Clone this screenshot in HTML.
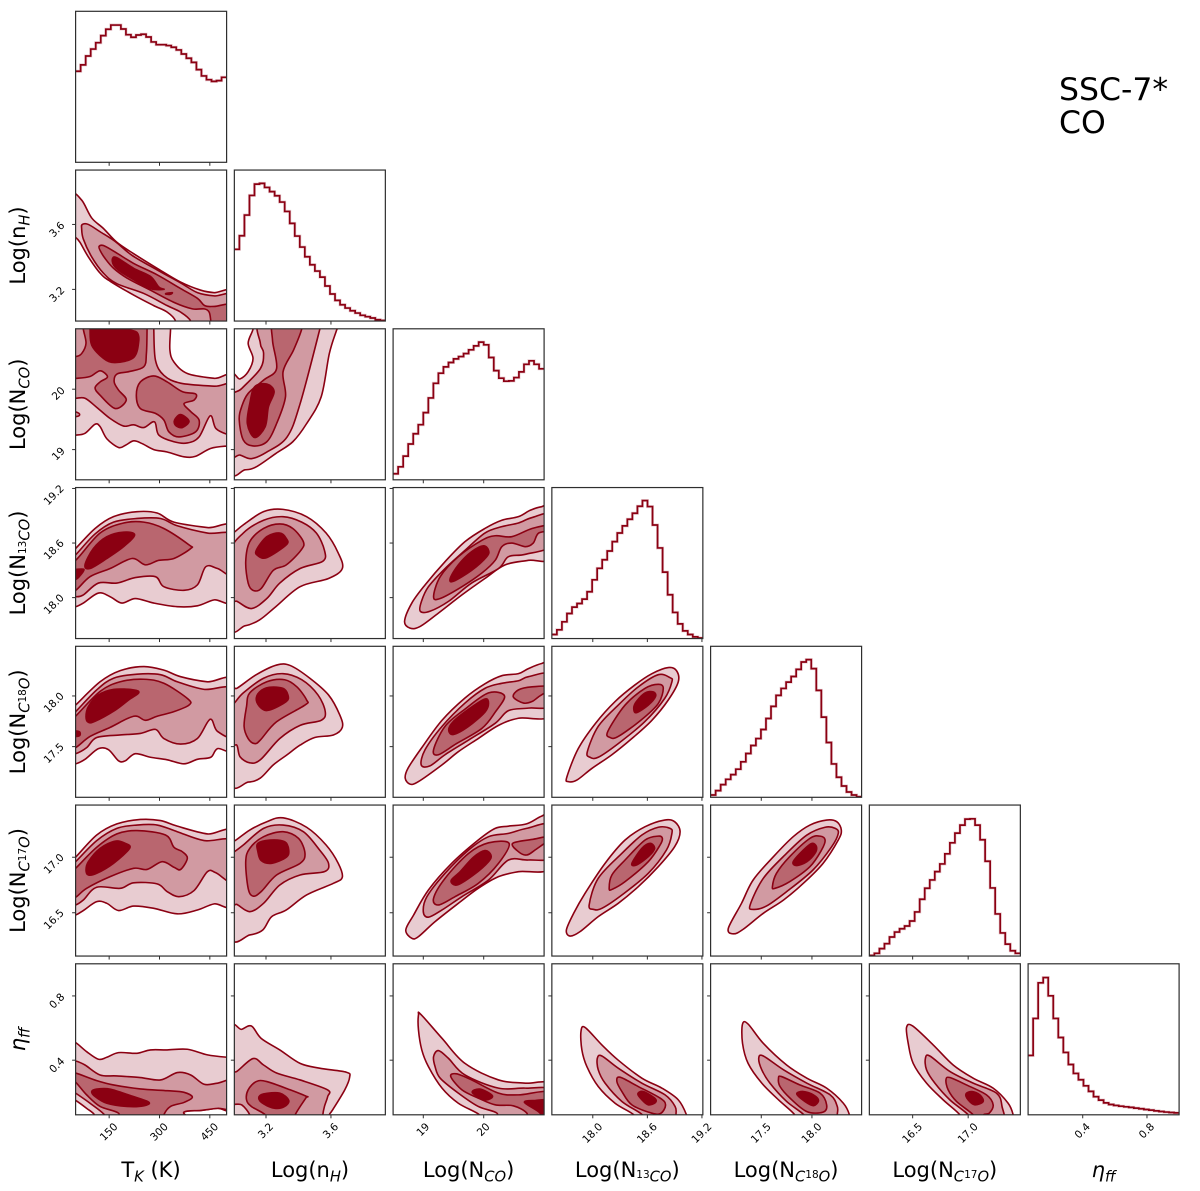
<!DOCTYPE html>
<html lang="en">
<head>
<meta charset="utf-8">
<title>SSC-7* CO corner plot</title>
<style>
html,body{margin:0;padding:0;background:#fff;}
svg{display:block;font-family:"DejaVu Sans","Liberation Sans",sans-serif;}
.axis-title{font-size:21px;fill:#000;text-anchor:middle;}
.sub{font-size:14.7px;font-style:italic;}
.iso{font-size:10.5px;}
</style>
</head>
<body>
<svg id="chart" xmlns="http://www.w3.org/2000/svg" width="1200" height="1191" viewBox="0 0 1200 1191">
  <rect x="0" y="0" width="1200" height="1191" fill="#fff"/>
  <g id="panels"></g>

  <text x="1059" y="100" font-size="31.5" fill="#000">SSC-7*</text>
  <text x="1059" y="133" font-size="31.5" fill="#000">CO</text>

  <text class="axis-title" x="151" y="1177">T<tspan class="sub" dy="4.5">K</tspan><tspan dy="-4.5"> (K)</tspan></text>
  <text class="axis-title" x="310" y="1177">Log(n<tspan class="sub" dy="4.5">H</tspan><tspan dy="-4.5">)</tspan></text>
  <text class="axis-title" x="468.6" y="1177">Log(N<tspan class="sub" dy="4.5">CO</tspan><tspan dy="-4.5">)</tspan></text>
  <text class="axis-title" x="627.3" y="1177">Log(N<tspan class="iso" dy="1">13</tspan><tspan class="sub" dy="3.5">CO</tspan><tspan dy="-4.5">)</tspan></text>
  <text class="axis-title" x="786" y="1177">Log(N<tspan class="sub" dy="4.5">C</tspan><tspan class="iso" dy="-3.5">18</tspan><tspan class="sub" dy="3.5">O</tspan><tspan dy="-4.5">)</tspan></text>
  <text class="axis-title" x="944.8" y="1177">Log(N<tspan class="sub" dy="4.5">C</tspan><tspan class="iso" dy="-3.5">17</tspan><tspan class="sub" dy="3.5">O</tspan><tspan dy="-4.5">)</tspan></text>
  <text class="axis-title" x="1103.6" y="1177"><tspan font-style="italic">η</tspan><tspan class="sub" dy="4.5">ff</tspan></text>

  <text class="axis-title" x="25" y="245.5" transform="rotate(-90 25 245.5)">Log(n<tspan class="sub" dy="4.5">H</tspan><tspan dy="-4.5">)</tspan></text>
  <text class="axis-title" x="25" y="404.3" transform="rotate(-90 25 404.3)">Log(N<tspan class="sub" dy="4.5">CO</tspan><tspan dy="-4.5">)</tspan></text>
  <text class="axis-title" x="25" y="563" transform="rotate(-90 25 563)">Log(N<tspan class="iso" dy="1">13</tspan><tspan class="sub" dy="3.5">CO</tspan><tspan dy="-4.5">)</tspan></text>
  <text class="axis-title" x="25" y="721.8" transform="rotate(-90 25 721.8)">Log(N<tspan class="sub" dy="4.5">C</tspan><tspan class="iso" dy="-3.5">18</tspan><tspan class="sub" dy="3.5">O</tspan><tspan dy="-4.5">)</tspan></text>
  <text class="axis-title" x="25" y="880.5" transform="rotate(-90 25 880.5)">Log(N<tspan class="sub" dy="4.5">C</tspan><tspan class="iso" dy="-3.5">17</tspan><tspan class="sub" dy="3.5">O</tspan><tspan dy="-4.5">)</tspan></text>
  <text class="axis-title" x="25" y="1039.3" transform="rotate(-90 25 1039.3)"><tspan font-style="italic">η</tspan><tspan class="sub" dy="4.5">ff</tspan></text>
</svg>

<script>
// Parameter names, axis ranges and ticks
const paramNames = ['tk','nh','nco','n13co','nc18o','nc17o','eta'];
const axisMin = [50, 3.005, 18.5, 17.55, 17.0, 16.11, 0.06];
const axisMax = [500, 3.935, 21.0, 19.21, 18.49, 17.47, 1.0];
const tickValues = [[150,300,450],[3.2,3.6],[19,20],[18.0,18.6,19.2],[17.5,18.0],[16.5,17.0],[0.4,0.8]];
const tickLabels = [['150','300','450'],['3.2','3.6'],['19','20'],['18.0','18.6','19.2'],['17.5','18.0'],['16.5','17.0'],['0.4','0.8']];

// Marginal histograms: relative density (percent of panel height scale), 30 bins
const histTk = [60.3,64.5,70.4,75,79.2,83.9,88.1,90.9,90.9,88.3,84.5,82.8,84.3,84.8,83,79.7,77.9,77.9,77.3,76.2,74.4,71.7,68.9,66.2,61.4,57.2,54.7,53.6,54.1,56.3];
const histNh = [47.5,56.5,70.2,83.2,90.7,91.2,88.5,85.7,83,78.8,72.6,64.7,56.3,49,42.6,37.3,33.1,29.1,23.2,17.9,13.7,10.8,8.6,6.8,5.3,3.8,2.9,2,0.9,0.4];
const histNco = [4,8.6,15.7,23.7,30.5,36.5,44.5,54.2,63.9,70.6,74.8,77.7,80.1,81.6,83.6,86.1,88.7,91.2,89.4,81,72.3,67.3,65.3,65.5,67.7,71.5,76.5,78.8,76.5,73.5];
const histN13co = [2.7,5.8,11.1,16.6,20.8,23.2,26.1,31,38.9,46.5,52.2,58,64.2,69.9,74.6,79,83,87.6,91.4,87.4,75.2,60,44,29,17.3,9.7,5.1,2.7,1.1,0.4];
const histNc18o = [1.5,4.4,8.4,11.9,15,18.6,23.5,29,34.3,38.9,44.9,52.2,60.2,67.5,72.1,76.3,80,84.7,89.6,91.2,85.2,70.8,53.1,36.3,22.1,13.3,7.5,3.5,1.5,0.4];
const histNc17o = [0.4,1.8,4.9,8.2,12.6,15.9,18.1,19.9,23.2,29.2,37.6,44.9,50.4,55.9,61,67.7,75,81.4,86.7,90.7,90.9,86.7,77,62.8,45.1,27.9,15.3,7.9,3.5,1.8];
const histEta = [39.3,63.8,87.4,90.9,78.8,63.8,51.2,41.3,33.3,27.4,23.2,19.2,15.5,12,9.7,7.9,6.8,6.2,5.7,5.3,4.9,4.4,4,3.5,3.1,2.6,2.2,1.8,1.5,1.3];

// Contours: each entry = [level, xValue, yValue, xValue, yValue, ...] in parameter units
const contoursNhTk = [
 [0, 38,3.78,68,3.75,98,3.64,133,3.575,173,3.49,223,3.42,293,3.33,363,3.245,423,3.195,463,3.18,523,3.18,523,2.9,348,2.93,348,3.005,323,3.06,283,3.10,223,3.165,153,3.25,123,3.30,88,3.40,63,3.49,50,3.52,33,3.535],
 [1, 70,3.60,88,3.60,123,3.555,168,3.495,218,3.41,293,3.32,363,3.24,413,3.18,463,3.16,523,3.16,523,2.93,393,2.93,393,3.005,363,3.06,323,3.10,253,3.175,173,3.235,133,3.30,98,3.40,73,3.51,68,3.575],
 [2, 120,3.465,133,3.47,168,3.43,223,3.36,293,3.29,363,3.205,413,3.145,435,3.10,463,3.095,523,3.10,523,2.93,458,2.93,453,3.005,448,3.06,433,3.08,398,3.08,343,3.12,273,3.195,203,3.27,163,3.33,138,3.39,123,3.44],
 [3, 160,3.39,173,3.395,223,3.33,273,3.28,298,3.215,313,3.20,273,3.205,223,3.26,183,3.31,163,3.35],
 [3, 320,3.175,338,3.18,333,3.17,320,3.17]
];
const contoursNcoTk = [
 [0, 23,19.24,50,19.24,78,19.27,108,19.42,123,19.38,143,19.18,178,19.035,198,19.07,223,19.145,248,19.10,283,19.0,323,18.96,373,18.88,408,18.89,453,19.02,503,19.06,523,19.06,523,20.17,463,20.18,383,20.26,343,20.45,331,20.65,333,20.995,333,21.14,23,21.14],
 [1, 23,19.85,50,19.85,78,19.85,113,19.70,153,19.515,193,19.39,223,19.41,253,19.365,285,19.46,298,19.24,343,19.13,383,19.11,418,19.21,451,19.56,468,19.35,503,19.25,523,19.25,523,20.04,463,20.05,363,20.10,313,20.23,288,20.48,283,20.995,283,21.14,23,21.14],
 [1, 43,19.63,60,19.60,60,19.56,43,19.55],
 [2, 23,20.18,53,20.18,93,20.21,123,20.305,145,20.205,123,20.12,108,20.02,123,19.90,168,19.68,201,19.82,178,19.985,165,20.12,173,20.25,208,20.29,253,20.37,261,20.59,263,20.995,263,21.14,23,21.14],
 [2, 231,19.90,243,20.12,283,20.22,323,20.12,368,19.96,408,19.92,403,19.82,373,19.76,393,19.63,418,19.49,408,19.295,358,19.21,328,19.295,313,19.49,288,19.60,243,19.68],
 [1, 23,20.54,50,20.54,68,20.59,81,20.76,73,20.995,73,21.14,23,21.14],
 [3, 93,20.995,98,20.73,133,20.51,168,20.44,223,20.525,238,20.785,233,20.94,208,20.995,208,21.1,93,21.1],
 [3, 345,19.49,363,19.58,388,19.47,368,19.365,348,19.40]
];
const contoursNcoNh = [
 [0, 2.98,18.68,3.07,18.665,3.14,18.715,3.26,18.935,3.365,19.13,3.45,19.43,3.54,19.875,3.59,20.59,3.635,20.98,3.655,21.14,3.115,21.14,3.12,20.995,3.09,20.76,3.12,20.51,3.09,20.29,3.04,20.17,2.98,20.16],
 [1, 2.98,18.935,3.04,18.91,3.11,18.85,3.205,18.96,3.33,19.21,3.41,19.76,3.53,20.98,3.54,21.14,3.175,21.14,3.165,20.76,3.185,20.60,3.165,20.34,3.05,20.01,2.98,19.82],
 [2, 3.035,19.49,3.06,19.16,3.12,19.06,3.205,19.13,3.265,19.43,3.32,19.875,3.305,20.29,3.37,20.65,3.42,20.995,3.42,21.14,3.25,21.14,3.24,20.81,3.265,20.34,3.185,20.15,3.09,19.93,3.05,19.71],
 [3, 3.085,19.43,3.10,19.76,3.13,20.04,3.205,20.085,3.25,19.96,3.215,19.71,3.195,19.38,3.13,19.20]
];
const contoursN13coTk = [
 [0, 28,17.9,50,17.90,73,17.94,118,18.05,153,18.01,188,17.94,228,17.99,283,17.94,353,17.90,413,17.91,463,17.975,523,17.99,523,18.75,443,18.77,343,18.83,293,18.93,233,18.945,163,18.89,108,18.76,50,18.54,28,18.47],
 [1, 28,18.03,50,18.01,73,18.03,118,18.16,173,18.16,228,18.22,288,18.23,313,18.12,373,18.08,413,18.14,438,18.34,473,18.32,523,18.25,523,18.68,443,18.71,353,18.79,303,18.87,233,18.87,163,18.83,108,18.70,50,18.47,28,18.40],
 [2, 28,18.08,50,18.08,93,18.23,153,18.32,218,18.43,258,18.36,298,18.41,343,18.43,393,18.54,388,18.58,313,18.76,253,18.83,193,18.82,123,18.71,50,18.41,28,18.41],
 [3, 78,18.36,93,18.32,143,18.43,193,18.56,226,18.69,193,18.72,143,18.67,103,18.54],
 [3, 28,18.31,50,18.31,75,18.31,63,18.24,50,18.20,28,18.20]
];
const contoursN13coNh = [
 [0, 2.98,17.70,3.07,17.69,3.16,17.755,3.26,17.90,3.41,18.12,3.585,18.21,3.67,18.32,3.645,18.49,3.57,18.71,3.45,18.89,3.305,18.97,3.185,18.945,3.06,18.80,3.005,18.72,2.98,18.71],
 [1, 2.98,17.97,3.02,17.96,3.11,17.88,3.205,17.99,3.285,18.16,3.41,18.32,3.55,18.40,3.56,18.52,3.51,18.71,3.42,18.83,3.305,18.89,3.185,18.85,3.06,18.71,2.98,18.49],
 [2, 3.075,18.395,3.09,18.16,3.12,18.08,3.17,18.10,3.245,18.30,3.325,18.36,3.415,18.52,3.43,18.615,3.365,18.76,3.285,18.81,3.185,18.76,3.10,18.615],
 [3, 3.14,18.52,3.15,18.46,3.205,18.44,3.325,18.58,3.325,18.65,3.285,18.71,3.205,18.67]
];
const contoursN13coNco = [
 [0, 18.69,17.74,18.78,17.665,18.94,17.68,19.25,17.83,19.64,18.03,20.02,18.21,20.355,18.36,20.74,18.41,21.13,18.45,21.13,19.0,20.96,19.0,20.77,18.96,20.575,18.89,20.30,18.85,20.02,18.76,19.69,18.615,19.36,18.395,19.03,18.14,18.81,17.94],
 [1, 18.95,17.85,19.11,17.85,19.42,17.96,19.80,18.16,20.245,18.32,20.41,18.45,20.69,18.476,21.13,18.58,21.13,18.91,20.80,18.88,20.575,18.82,20.30,18.78,20.02,18.71,19.69,18.52,19.36,18.32,19.085,18.12,18.97,17.96],
 [2, 19.17,18.01,19.28,17.99,19.64,18.12,19.97,18.27,20.19,18.41,20.30,18.56,20.465,18.60,20.69,18.56,20.82,18.60,20.91,18.71,21.13,18.74,21.13,18.80,20.80,18.76,20.465,18.67,20.19,18.68,19.97,18.63,19.58,18.45,19.28,18.23],
 [3, 19.445,18.21,19.50,18.18,19.80,18.30,20.05,18.45,20.08,18.52,19.995,18.57,19.80,18.505,19.58,18.36]
];
const contoursNc18oTk = [
 [0, 28,17.33,50,17.33,78,17.375,118,17.48,148,17.47,178,17.36,198,17.36,228,17.43,273,17.395,323,17.37,373,17.33,413,17.375,453,17.395,473,17.48,523,17.50,523,18.14,443,18.14,363,18.19,313,18.255,253,18.29,183,18.25,123,18.14,50,17.91,28,17.845],
 [1, 28,17.43,50,17.43,83,17.49,113,17.59,183,17.615,243,17.63,288,17.67,313,17.58,363,17.525,413,17.58,451,17.77,473,17.65,523,17.615,523,18.06,433,18.065,353,18.14,303,18.21,233,18.215,163,18.175,113,18.06,50,17.845,28,17.78],
 [2, 28,17.49,50,17.49,93,17.60,153,17.69,223,17.80,258,17.76,293,17.80,343,17.845,388,17.91,385,17.97,313,18.125,253,18.165,183,18.14,123,18.045,50,17.80,28,17.73],
 [3, 81,17.795,88,17.74,108,17.75,168,17.86,208,17.96,238,18.03,223,18.06,163,18.065,118,18.01,88,17.895],
 [3, 28,17.65,60,17.65,60,17.605,28,17.605]
];
const contoursNc18oNh = [
 [0, 2.98,17.16,3.09,17.15,3.165,17.19,3.245,17.32,3.33,17.42,3.41,17.515,3.50,17.59,3.615,17.615,3.67,17.69,3.655,17.81,3.585,18.01,3.47,18.175,3.35,18.30,3.265,18.305,3.14,18.21,3.02,18.075,2.98,18.065],
 [1, 2.98,17.525,3.02,17.515,3.04,17.40,3.10,17.34,3.165,17.37,3.285,17.58,3.41,17.71,3.54,17.76,3.565,17.845,3.52,18.01,3.42,18.16,3.305,18.22,3.185,18.175,3.06,18.03,3.005,17.93,2.98,17.91],
 [2, 3.065,17.70,3.09,17.58,3.13,17.53,3.165,17.565,3.265,17.745,3.44,17.91,3.45,17.96,3.39,18.09,3.315,18.16,3.205,18.14,3.10,18.03,3.08,17.895],
 [3, 3.14,17.96,3.17,17.88,3.22,17.86,3.325,17.945,3.335,18.01,3.305,18.075,3.22,18.085,3.16,18.04]
];
const contoursNc18oNco = [
 [0, 18.70,17.19,18.78,17.13,18.92,17.155,19.31,17.32,19.58,17.45,19.91,17.58,20.245,17.71,20.575,17.78,21.13,17.82,21.13,18.32,20.96,18.32,20.74,18.27,20.575,18.22,20.30,18.20,20.02,18.12,19.69,17.98,19.31,17.76,18.975,17.49,18.75,17.29],
 [1, 18.965,17.32,19.11,17.31,19.36,17.42,19.75,17.565,20.19,17.73,20.41,17.855,20.74,17.88,21.13,17.91,21.13,18.21,20.74,18.19,20.575,18.15,20.30,18.125,20.02,18.075,19.69,17.93,19.31,17.70,19.03,17.47],
 [2, 19.17,17.47,19.25,17.42,19.55,17.53,19.97,17.68,20.19,17.84,20.345,18.00,20.08,18.03,19.69,17.87,19.36,17.70],
 [2, 20.49,17.99,20.66,17.93,20.80,17.945,20.905,17.99,21.13,18.09,20.80,18.09,20.575,18.06],
 [3, 19.42,17.665,19.50,17.62,19.75,17.70,20.02,17.84,20.08,17.925,20.02,17.97,19.75,17.87,19.50,17.75]
];
const contoursNc18oN13co = [
 [0, 17.715,17.20,17.73,17.155,17.825,17.17,17.99,17.285,18.21,17.42,18.43,17.58,18.65,17.76,18.83,17.96,18.94,18.14,18.92,18.25,18.83,18.28,18.65,18.22,18.465,18.11,18.245,17.945,18.03,17.73,17.84,17.48],
 [1, 17.94,17.45,17.97,17.395,18.06,17.395,18.28,17.53,18.57,17.745,18.79,17.975,18.87,18.14,18.85,18.18,18.72,18.21,18.50,18.09,18.28,17.91,18.06,17.70],
 [2, 18.165,17.65,18.19,17.59,18.28,17.60,18.535,17.765,18.72,17.925,18.775,18.075,18.72,18.115,18.575,18.075,18.355,17.91],
 [3, 18.45,17.88,18.48,17.835,18.61,17.91,18.69,17.995,18.665,18.04,18.575,18.03,18.48,17.945]
];
const contoursNc17oTk = [
 [0, 28,16.47,50,16.48,73,16.52,113,16.60,143,16.585,178,16.52,223,16.56,283,16.54,353,16.49,413,16.525,463,16.58,523,16.59,523,17.21,443,17.21,353,17.28,303,17.33,243,17.34,173,17.30,113,17.20,50,17.00,28,16.94],
 [1, 28,16.57,50,16.57,73,16.615,113,16.73,183,16.72,223,16.77,293,16.76,323,16.69,358,16.645,403,16.70,443,16.87,468,16.86,523,16.78,523,17.14,433,17.15,353,17.23,293,17.29,233,17.29,173,17.26,113,17.15,50,16.96,28,16.90],
 [2, 28,16.64,50,16.64,83,16.72,153,16.825,223,16.90,263,16.89,308,16.96,343,16.91,363,16.89,383,16.99,368,17.05,343,17.09,318,17.20,233,17.24,173,17.21,113,17.09,50,16.90,28,16.84],
 [3, 81,16.885,88,16.84,113,16.855,163,16.945,211,17.08,198,17.125,168,17.145,123,17.08,88,16.96]
];
const contoursNc17oNh = [
 [0, 2.98,16.30,3.10,16.30,3.18,16.345,3.235,16.465,3.325,16.525,3.45,16.66,3.615,16.765,3.67,16.82,3.645,16.945,3.57,17.11,3.45,17.27,3.305,17.355,3.205,17.32,3.10,17.245,3.01,17.15,2.98,17.145],
 [1, 2.98,16.585,3.02,16.575,3.10,16.51,3.185,16.585,3.285,16.75,3.41,16.84,3.56,16.87,3.585,16.945,3.53,17.065,3.43,17.23,3.305,17.29,3.185,17.26,3.06,17.11,3.005,17.05,2.98,17.04],
 [2, 3.075,16.96,3.09,16.72,3.12,16.65,3.17,16.69,3.265,16.84,3.41,16.945,3.44,17.035,3.40,17.17,3.305,17.23,3.185,17.185,3.10,17.08],
 [3, 3.15,17.05,3.17,16.97,3.235,16.945,3.325,17.0,3.34,17.065,3.315,17.14,3.225,17.155,3.15,17.125]
];
const contoursNc17oNco = [
 [0, 18.71,16.345,18.81,16.27,18.92,16.285,19.195,16.42,19.58,16.585,19.91,16.72,20.245,16.825,20.575,16.87,21.13,16.915,21.13,17.38,20.96,17.37,20.71,17.30,20.41,17.28,20.19,17.26,19.91,17.155,19.47,16.945,19.085,16.705,18.84,16.48],
 [1, 19.0,16.51,19.085,16.46,19.31,16.525,19.64,16.645,20.08,16.795,20.41,16.975,20.74,16.975,21.13,17.005,21.13,17.29,20.71,17.26,20.41,17.215,20.08,17.185,19.75,17.065,19.36,16.855,19.06,16.645],
 [2, 19.17,16.63,19.25,16.57,19.525,16.645,19.91,16.765,20.245,16.945,20.42,17.125,20.08,17.13,19.75,17.035,19.36,16.81],
 [2, 20.48,17.125,20.575,17.05,20.71,17.02,20.85,17.065,21.13,17.185,20.80,17.16],
 [3, 19.46,16.79,19.56,16.75,19.83,16.84,20.08,16.96,20.12,17.02,20.02,17.06,19.83,17.0,19.61,16.87]
];
const contoursNc17oN13co = [
 [0, 17.71,16.345,17.75,16.29,17.86,16.33,18.06,16.465,18.28,16.585,18.50,16.735,18.72,16.915,18.90,17.095,18.96,17.23,18.90,17.32,18.79,17.335,18.575,17.275,18.355,17.155,18.135,16.945,17.915,16.675,17.79,16.495],
 [1, 17.96,16.57,18.01,16.53,18.10,16.54,18.32,16.66,18.61,16.855,18.81,17.065,18.87,17.215,18.85,17.26,18.72,17.27,18.54,17.20,18.32,17.035,18.06,16.81],
 [2, 18.18,16.72,18.21,16.71,18.355,16.78,18.61,16.96,18.74,17.11,18.765,17.17,18.72,17.19,18.575,17.155,18.355,16.975,18.21,16.84],
 [3, 18.43,16.945,18.48,16.93,18.61,17.005,18.68,17.08,18.63,17.125,18.54,17.08]
];
const contoursNc17oNc18o = [
 [0, 17.175,16.36,17.225,16.31,17.32,16.35,17.52,16.495,17.72,16.615,17.915,16.765,18.11,16.945,18.26,17.155,18.29,17.245,18.245,17.32,18.145,17.335,17.98,17.29,17.815,17.185,17.62,17.005,17.42,16.795,17.305,16.585],
 [1, 17.39,16.57,17.42,16.53,17.55,16.56,17.75,16.69,18.01,16.885,18.195,17.095,18.26,17.215,18.23,17.26,18.13,17.27,17.95,17.20,17.75,17.035,17.52,16.81],
 [2, 17.61,16.735,17.635,16.72,17.78,16.78,17.98,16.915,18.095,17.065,18.13,17.155,18.08,17.19,17.98,17.17,17.78,17.005,17.65,16.855],
 [3, 17.815,16.96,17.85,16.925,17.95,16.96,18.03,17.035,18.045,17.095,18.0,17.125,17.915,17.065]
];
const contoursEtaTk = [
 [0, 28,.525,50,.51,83,.453,118,.406,143,.418,178,.447,233,.443,273,.464,323,.464,383,.468,443,.433,503,.418,523,.418,523,.103,473,.10,423,.087,373,.077,371,.01,106,.01,106,.06,83,.10,50,.15,28,.174],
 [1, 28,.397,50,.395,78,.37,123,.308,173,.302,243,.292,303,.277,353,.323,393,.308,433,.25,473,.257,523,.271,523,.103,473,.10,423,.087,373,.077,371,.01,138,.01,136,.06,93,.132,50,.195,28,.225],
 [2, 28,.32,50,.32,113,.273,163,.246,243,.221,323,.21,373,.20,398,.17,373,.137,333,.112,313,.06,311,.01,180,.01,178,.07,123,.112,83,.184,50,.263,28,.288],
 [3, 98,.205,113,.22,153,.22,213,.18,268,.139,253,.116,203,.112,143,.132,108,.174]
];
const contoursEtaNh = [
 [0, 2.98,.578,3.05,.592,3.11,.613,3.17,.536,3.285,.464,3.41,.38,3.53,.35,3.695,.325,3.715,.294,3.685,.215,3.61,.09,3.59,.06,3.59,.01,2.98,.01],
 [1, 2.98,.32,3.02,.33,3.12,.41,3.185,.37,3.265,.32,3.41,.277,3.58,.215,3.58,.174,3.56,.112,3.55,.06,3.55,.01,3.105,.01,3.10,.06,3.05,.122,2.98,.143],
 [2, 3.08,.153,3.09,.215,3.14,.267,3.205,.267,3.35,.215,3.45,.174,3.445,.164,3.38,.06,3.38,.01,3.20,.01,3.195,.06,3.11,.112],
 [3, 3.155,.164,3.185,.19,3.285,.195,3.34,.15,3.315,.112,3.255,.10,3.185,.128]
];
const contoursEtaNco = [
 [0, 18.92,.681,18.96,.685,19.31,.536,19.69,.38,20.245,.277,20.69,.257,21.13,.246,21.13,.01,19.94,.01,19.93,.06,19.58,.132,19.31,.226,19.085,.36,18.975,.464,18.92,.588],
 [1, 19.17,.422,19.25,.46,19.415,.412,19.69,.308,20.245,.226,20.69,.226,21.13,.21,21.13,.01,20.23,.01,20.22,.07,19.91,.112,19.58,.195,19.28,.288,19.195,.36],
 [2, 19.455,.298,19.55,.315,19.80,.277,20.245,.195,20.575,.184,21.13,.195,21.13,.01,20.725,.01,20.715,.07,20.49,.116,20.19,.122,19.91,.164,19.64,.215],
 [3, 19.81,.199,19.94,.22,20.145,.178,20.025,.153],
 [3, 20.675,.137,20.85,.149,21.13,.143,21.13,.01,20.96,.01,20.935,.07]
];
const contoursEtaN13co = [
 [0, 17.87,.578,17.915,.604,18.10,.495,18.28,.40,18.54,.288,18.76,.226,18.94,.153,19.03,.06,19.04,.01,18.455,.01,18.45,.06,18.245,.132,18.06,.236,17.935,.36,17.88,.464],
 [1, 18.05,.412,18.10,.426,18.28,.35,18.54,.257,18.795,.184,18.905,.112,18.915,.06,18.915,.01,18.555,.01,18.545,.06,18.32,.143,18.135,.257,18.06,.34],
 [2, 18.265,.267,18.30,.294,18.50,.236,18.74,.164,18.80,.122,18.75,.07,18.65,.07,18.43,.122,18.32,.205],
 [3, 18.495,.19,18.555,.205,18.68,.164,18.69,.137,18.61,.122,18.54,.153]
];
const contoursEtaNc18o = [
 [0, 17.315,.625,17.37,.625,17.52,.505,17.75,.37,17.95,.288,18.145,.226,18.31,.132,18.37,.06,18.37,.01,17.84,.01,17.83,.06,17.67,.153,17.505,.257,17.37,.38,17.315,.505],
 [1, 17.475,.412,17.52,.426,17.72,.34,17.95,.257,18.18,.184,18.25,.112,18.25,.06,18.25,.01,17.93,.01,17.92,.06,17.75,.143,17.585,.257,17.505,.34],
 [2, 17.67,.288,17.70,.298,17.88,.246,18.08,.195,18.145,.122,18.11,.077,17.95,.08,17.785,.163,17.685,.236],
 [3, 17.85,.19,17.915,.205,18.015,.184,18.065,.149,18.015,.117,17.93,.143]
];
const contoursEtaNc17o = [
 [0, 16.445,.604,16.50,.613,16.685,.495,16.865,.37,17.045,.288,17.225,.226,17.36,.132,17.405,.06,17.405,.01,16.93,.01,16.925,.06,16.775,.153,16.625,.257,16.505,.38,16.46,.505],
 [1, 16.615,.412,16.655,.426,16.835,.33,17.045,.257,17.255,.195,17.305,.112,17.305,.01,17.01,.01,17.0,.06,16.835,.153,16.70,.257,16.625,.34],
 [2, 16.80,.278,16.835,.292,16.985,.246,17.165,.184,17.225,.122,17.19,.07,17.14,.06,17.14,.01,17.06,.01,17.045,.06,16.895,.143,16.82,.215],
 [3, 16.98,.19,17.035,.205,17.105,.184,17.135,.143,17.06,.122,17.0,.153]
];

const histograms = [histTk, histNh, histNco, histN13co, histNc18o, histNc17o, histEta];
const contourGrid = {
 '1,0':contoursNhTk,
 '2,0':contoursNcoTk,'2,1':contoursNcoNh,
 '3,0':contoursN13coTk,'3,1':contoursN13coNh,'3,2':contoursN13coNco,
 '4,0':contoursNc18oTk,'4,1':contoursNc18oNh,'4,2':contoursNc18oNco,'4,3':contoursNc18oN13co,
 '5,0':contoursNc17oTk,'5,1':contoursNc17oNh,'5,2':contoursNc17oNco,'5,3':contoursNc17oN13co,'5,4':contoursNc17oNc18o,
 '6,0':contoursEtaTk,'6,1':contoursEtaNh,'6,2':contoursEtaNco,'6,3':contoursEtaN13co,'6,4':contoursEtaNc18o,'6,5':contoursEtaNc17o
};

// Layout and style
const NS = 'http://www.w3.org/2000/svg';
const PANEL_X0 = 75.6, PANEL_Y0 = 11.3, PANEL_STEP = 158.75, PANEL_SIZE = 151;
const LEVEL_FILLS = ['#e8ccd1','#d19aa2','#b9666f','#8b0012'];
const LINE_COLOR = '#8b0012', FRAME_COLOR = '#2e2e2e', TICK_FONT = 10.5;

const panelLeft = c => PANEL_X0 + PANEL_STEP * c;
const panelTop = r => PANEL_Y0 + PANEL_STEP * r;
const xAxis = (c, v) => panelLeft(c) + (v - axisMin[c]) / (axisMax[c] - axisMin[c]) * PANEL_SIZE;
const yAxis = (r, v) => panelTop(r) + PANEL_SIZE - (v - axisMin[r]) / (axisMax[r] - axisMin[r]) * PANEL_SIZE;

function make(tag, attrs, parent) {
  const el = document.createElementNS(NS, tag);
  for (const k in attrs) el.setAttribute(k, attrs[k]);
  parent.appendChild(el);
  return el;
}
function labelWidth(s) {
  let w = 0;
  for (const ch of s) w += (ch === '.' ? 0.318 : 0.636) * TICK_FONT;
  return w;
}
function smoothClosedPath(pts) {
  const n = pts.length;
  let d = 'M' + pts[0][0].toFixed(2) + ' ' + pts[0][1].toFixed(2);
  for (let i = 0; i < n; i++) {
    const p0 = pts[(i - 1 + n) % n], p1 = pts[i], p2 = pts[(i + 1) % n], p3 = pts[(i + 2) % n];
    const c1x = p1[0] + (p2[0] - p0[0]) / 6, c1y = p1[1] + (p2[1] - p0[1]) / 6;
    const c2x = p2[0] - (p3[0] - p1[0]) / 6, c2y = p2[1] - (p3[1] - p1[1]) / 6;
    d += 'C' + c1x.toFixed(2) + ' ' + c1y.toFixed(2) + ' ' + c2x.toFixed(2) + ' ' + c2y.toFixed(2) + ' ' + p2[0].toFixed(2) + ' ' + p2[1].toFixed(2);
  }
  return d + 'Z';
}

const root = document.getElementById('panels');
const defs = make('defs', {}, root);

for (let r = 0; r < 7; r++) {
  for (let c = 0; c <= r; c++) {
    const L = panelLeft(c), T = panelTop(r), B = T + PANEL_SIZE;
    const clipId = 'clip-' + r + '-' + c;
    const clip = make('clipPath', {id: clipId}, defs);
    make('rect', {x: L, y: T, width: PANEL_SIZE, height: PANEL_SIZE}, clip);

    const g = make('g', {}, root);
    
    
    const marks = make('g', {'clip-path': 'url(#' + clipId + ')'}, g);

    if (r === c) {
      const values = histograms[c];
      const binW = (axisMax[c] - axisMin[c]) / values.length;
      let d = '';
      values.forEach((v, i) => {
        const y = T + PANEL_SIZE - v / 100 * PANEL_SIZE;
        const x0 = xAxis(c, axisMin[c] + binW * i), x1 = xAxis(c, axisMin[c] + binW * (i + 1));
        d += (i === 0 ? 'M' : 'L') + x0.toFixed(2) + ' ' + y.toFixed(2) + 'L' + x1.toFixed(2) + ' ' + y.toFixed(2);
      });
      const halo = make('path', {d: d, fill: 'none', stroke: '#e8ccd1', 'stroke-width': 3}, marks);
      
      
      const step = make('path', {d: d, fill: 'none', stroke: LINE_COLOR, 'stroke-width': 1.7}, marks);
      
      
    } else {
      contourGrid[r + ',' + c].forEach(poly => {
        const level = poly[0], pts = [];
        for (let i = 1; i < poly.length; i += 2) pts.push([xAxis(c, poly[i]), yAxis(r, poly[i + 1])]);
        const p = make('path', {d: smoothClosedPath(pts), fill: LEVEL_FILLS[level], stroke: LINE_COLOR, 'stroke-width': 1.6, 'stroke-linejoin': 'round'}, marks);
        
        
      });
    }

    const frame = make('rect', {x: L, y: T, width: PANEL_SIZE, height: PANEL_SIZE, fill: 'none', stroke: FRAME_COLOR, 'stroke-width': 1.2}, g);
    
    

    tickValues[c].forEach((v, i) => {
      const x = xAxis(c, v);
      const tick = make('line', {x1: x, x2: x, y1: B, y2: B + 3.5, stroke: FRAME_COLOR, 'stroke-width': 1}, g);
      
      
      if (r === 6) {
        const s = tickLabels[c][i], w = labelWidth(s);
        const cy = B + 7.5 + (w + 8) * 0.354;
        const t = make('text', {x: x, y: cy, 'font-size': TICK_FONT, 'text-anchor': 'middle', 'dominant-baseline': 'central', fill: '#000', transform: 'rotate(-45 ' + x + ' ' + cy + ')'}, g);
        
        
        t.textContent = s;
      }
    });
    if (r !== c) {
      tickValues[r].forEach((v, i) => {
        const y = yAxis(r, v);
        const tick = make('line', {x1: L - 3.5, x2: L, y1: y, y2: y, stroke: FRAME_COLOR, 'stroke-width': 1}, g);
        
        
        if (c === 0) {
          const s = tickLabels[r][i], w = labelWidth(s);
          const cx = L - 7 - (w + 8) * 0.46, cy = y + 1.5 + w * 0.23;
          const t = make('text', {x: cx, y: cy, 'font-size': TICK_FONT, 'text-anchor': 'middle', 'dominant-baseline': 'central', fill: '#000', transform: 'rotate(-45 ' + cx + ' ' + cy + ')'}, g);
          
          
          t.textContent = s;
        }
      });
    }
  }
}
</script>
</body>
</html>
